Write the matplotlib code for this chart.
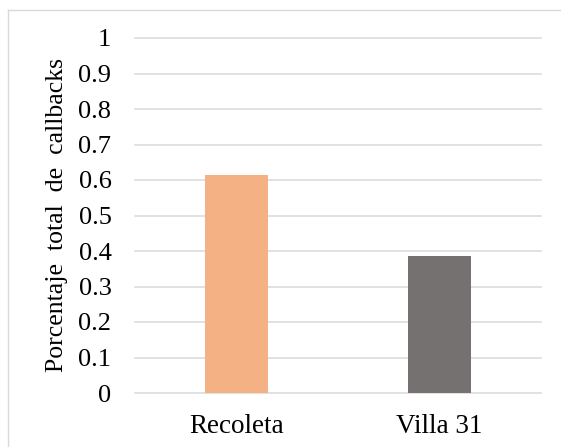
import matplotlib
matplotlib.use("Agg")
import matplotlib.pyplot as plt
from matplotlib.lines import Line2D

categories = ["Recoleta", "Villa 31"]
values = [0.615, 0.385]
colors = ["#F4B183", "#767171"]
yticks = [0, 0.1, 0.2, 0.3, 0.4, 0.5, 0.6, 0.7, 0.8, 0.9, 1]
ytick_labels = ["0", "0.1", "0.2", "0.3", "0.4", "0.5", "0.6", "0.7", "0.8", "0.9", "1"]

plt.rcParams['font.family'] = ['Liberation Serif', 'DejaVu Serif']

W, H = 561, 447
fig = plt.figure(figsize=(W / 100, H / 100), dpi=100)
ax = fig.add_axes([135 / W, 1 - 393 / H, (541 - 135) / W, (393 - 38) / H])

x = list(range(len(categories)))
ax.bar(x, values, width=0.31, color=colors, zorder=3)
ax.set_xlim(-0.5, len(categories) - 0.5)
ax.set_ylim(0, 1)

for t in yticks:
    ax.axhline(t, color="#D9D9D9", lw=1.1, zorder=1, clip_on=False)

ax.set_yticks(yticks)
ax.set_yticklabels(ytick_labels)
ax.set_xticks(x)
ax.set_xticklabels(categories)
ax.tick_params(axis='y', length=0, pad=17, labelsize=19, colors="#000000")
ax.tick_params(axis='x', length=0, pad=15, labelsize=19.5)
for s in ax.spines.values():
    s.set_visible(False)

ax.set_ylabel("Porcentaje  total  de  callbacks", fontsize=18.5, va='center')
ax.yaxis.set_label_coords((57 - 135) / (541 - 135), 0.5)

# chart area border (Excel-style)
fig.add_artist(Line2D([8 / W, 8 / W], [0, 1 - 10 / H], color="#D9D9D9", lw=1.0, transform=fig.transFigure))
fig.add_artist(Line2D([8 / W, 1], [1 - 10 / H, 1 - 10 / H], color="#D9D9D9", lw=1.0, transform=fig.transFigure))

fig.savefig("out.png", dpi=100, facecolor="white")
